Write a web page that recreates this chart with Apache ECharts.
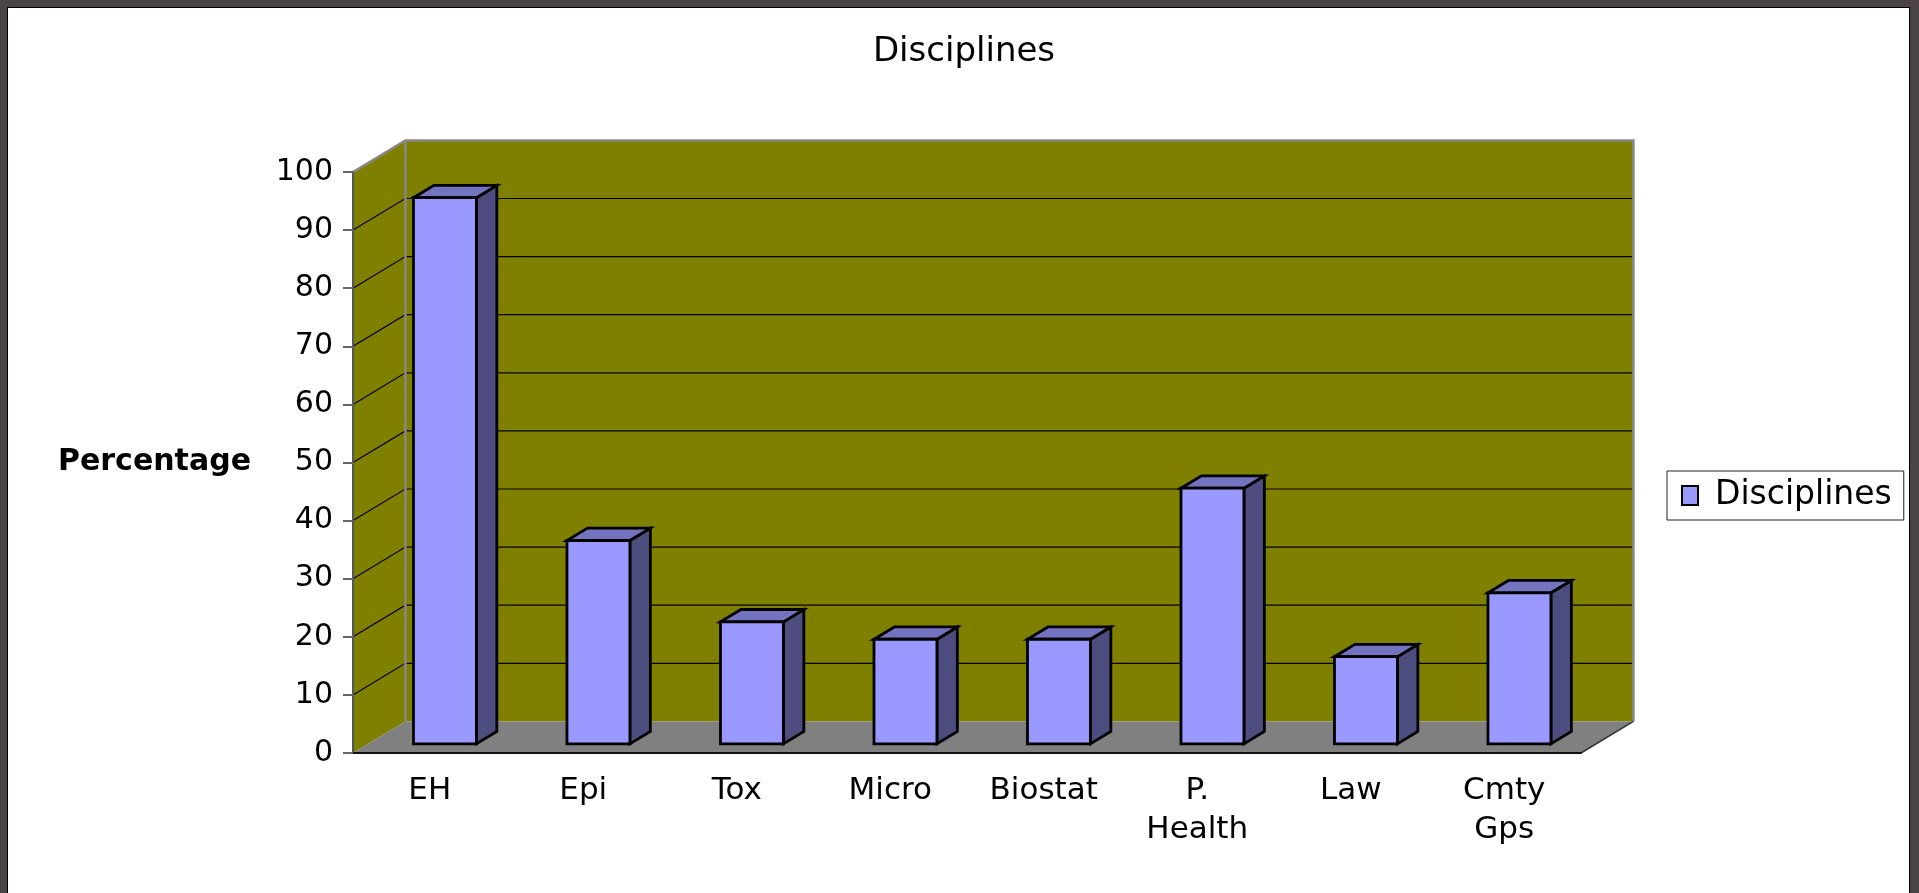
<!DOCTYPE html>
<html>
<head>
<meta charset="utf-8">
<script src="https://cdn.jsdelivr.net/npm/echarts@6/dist/echarts.min.js"></script>
<style>
html,body{margin:0;padding:0;background:#4a4446;}
#chart{width:1919px;height:893px;}
</style>
</head>
<body>
<div id="chart"></div>
<script>
const categories = ['EH', 'Epi', 'Tox', 'Micro', 'Biostat', 'P.\nHealth', 'Law', 'Cmty\nGps'];
const values = [94, 35, 21, 18, 18, 44, 15, 26];
const gridValues = [10, 20, 30, 40, 50, 60, 70, 80, 90];
const seriesName = 'Disciplines';
const titleText = 'Disciplines';
const yName = 'Percentage';

const DX = 52.4, DY = 31.6, D1 = 0.29, D2 = 0.68, BARW = 0.41;
const FONT = 'DejaVu Sans';

function renderWalls(params, api) {
  const cs = params.coordSys;
  const x = cs.x, y = cs.y, w = cs.width, h = cs.height;
  const ch = [];
  ch.push({type: 'polygon', shape: {points: [[x, y], [x, y + h], [x + DX, y + h - DY], [x + DX, y - DY]]}, style: {fill: '#808000'}});
  ch.push({type: 'rect', shape: {x: x + DX, y: y - DY, width: w, height: h}, style: {fill: '#808000'}});
  ch.push({type: 'polygon', shape: {points: [[x, y + h], [x + w, y + h], [x + w + DX, y + h - DY], [x + DX, y + h - DY]]}, style: {fill: '#808080'}});
  gridValues.forEach(function (v) {
    const yy = api.coord([0, v])[1];
    ch.push({type: 'polyline', shape: {points: [[x, yy], [x + DX, yy - DY], [x + w + DX, yy - DY]]}, style: {stroke: '#000', lineWidth: 1.2, fill: null}});
  });
  ch.push({type: 'polyline', shape: {points: [[x, y], [x + DX, y - DY], [x + w + DX, y - DY], [x + w + DX, y + h - DY]]}, style: {stroke: '#888', lineWidth: 2.5, fill: null}});
  ch.push({type: 'line', shape: {x1: x + DX, y1: y - DY, x2: x + DX, y2: y + h - DY}, style: {stroke: '#888', lineWidth: 2.5}});
  ch.push({type: 'line', shape: {x1: x + w, y1: y + h, x2: x + w + DX, y2: y + h - DY}, style: {stroke: '#333', lineWidth: 1.5}});
  return {type: 'group', children: ch};
}

function renderBar(params, api) {
  const i = api.value(0), v = api.value(1);
  const p = api.coord([i, v]);
  const p0 = api.coord([i, 0]);
  const bw = api.size([1, 0])[0];
  const fw = bw * BARW;
  const ox = D1 * DX, oy = D1 * DY;
  const ddx = (D2 - D1) * DX, ddy = (D2 - D1) * DY;
  const L = p[0] - fw / 2 + ox, R = L + fw, T = p[1] - oy, B = p0[1] - oy;
  const st = {stroke: '#000', lineWidth: 2.8, lineJoin: 'miter'};
  return {
    type: 'group',
    children: [
      {type: 'polygon', shape: {points: [[R, T], [R + ddx, T - ddy], [R + ddx, B - ddy], [R, B]]}, style: Object.assign({fill: '#4D4D80'}, st)},
      {type: 'polygon', shape: {points: [[L, T], [R, T], [R + ddx, T - ddy], [L + ddx, T - ddy]]}, style: Object.assign({fill: '#7373C0'}, st)},
      {type: 'rect', shape: {x: L, y: T, width: fw, height: B - T}, style: Object.assign({fill: '#9999FF'}, st)}
    ]
  };
}

const chart = echarts.init(document.getElementById('chart'));
chart.setOption({
  animation: false,
  backgroundColor: '#4a4446',
  graphic: {
    elements: [
      {type: 'rect', z: -10, shape: {x: 7, y: 7, width: 1903, height: 900}, style: {fill: '#000'}},
      {type: 'rect', z: -10, shape: {x: 8, y: 8, width: 1901, height: 900}, style: {fill: '#fff'}}
    ]
  },
  title: {
    text: titleText,
    left: 959,
    textAlign: 'center',
    top: 30,
    textStyle: {fontFamily: FONT, fontSize: 34, fontWeight: 'normal', color: '#000'}
  },
  legend: {
    data: [{name: seriesName, icon: 'rect'}],
    left: 1667,
    top: 471,
    orient: 'vertical',
    itemWidth: 16,
    itemHeight: 19,
    padding: [8, 12, 8, 14],
    backgroundColor: '#fff',
    borderColor: '#222',
    borderWidth: 1,
    selectedMode: false,
    itemStyle: {borderColor: '#000', borderWidth: 2},
    formatter: '{t|{name}}',
    textStyle: {
      color: '#000',
      fontFamily: FONT,
      fontSize: 33,
      rich: {t: {fontFamily: FONT, fontSize: 33, color: '#000', padding: [0, 0, 0, 12]}}
    }
  },
  grid: {left: 353, top: 172, width: 1228, height: 581, containLabel: false},
  xAxis: {
    type: 'category',
    data: categories,
    z: 5,
    axisLine: {lineStyle: {color: '#111', width: 2}},
    axisTick: {length: 10, lineStyle: {color: '#111', width: 1.5}},
    axisLabel: {margin: 18, interval: 0, fontFamily: FONT, fontSize: 31, color: '#000', lineHeight: 39}
  },
  yAxis: {
    type: 'value',
    min: 0,
    max: 100,
    interval: 10,
    z: 5,
    name: yName,
    nameLocation: 'middle',
    nameRotate: 0,
    nameGap: 102,
    nameTextStyle: {fontFamily: FONT, fontSize: 30, fontWeight: 'bold', color: '#000'},
    axisLine: {show: true, lineStyle: {color: '#555', width: 2}},
    axisTick: {show: true, length: 10, lineStyle: {color: '#666', width: 2}},
    axisLabel: {margin: 20, fontFamily: FONT, fontSize: 30, color: '#000'},
    splitLine: {show: false}
  },
  series: [
    {
      type: 'custom',
      name: '__walls',
      renderItem: renderWalls,
      data: [[0, 0]],
      z: 1,
      silent: true,
      tooltip: {show: false}
    },
    {
      type: 'custom',
      name: seriesName,
      renderItem: renderBar,
      itemStyle: {color: '#9999FF'},
      encode: {x: 0, y: 1},
      data: values.map(function (v, i) { return [i, v]; }),
      z: 3
    }
  ]
});
</script>
</body>
</html>
